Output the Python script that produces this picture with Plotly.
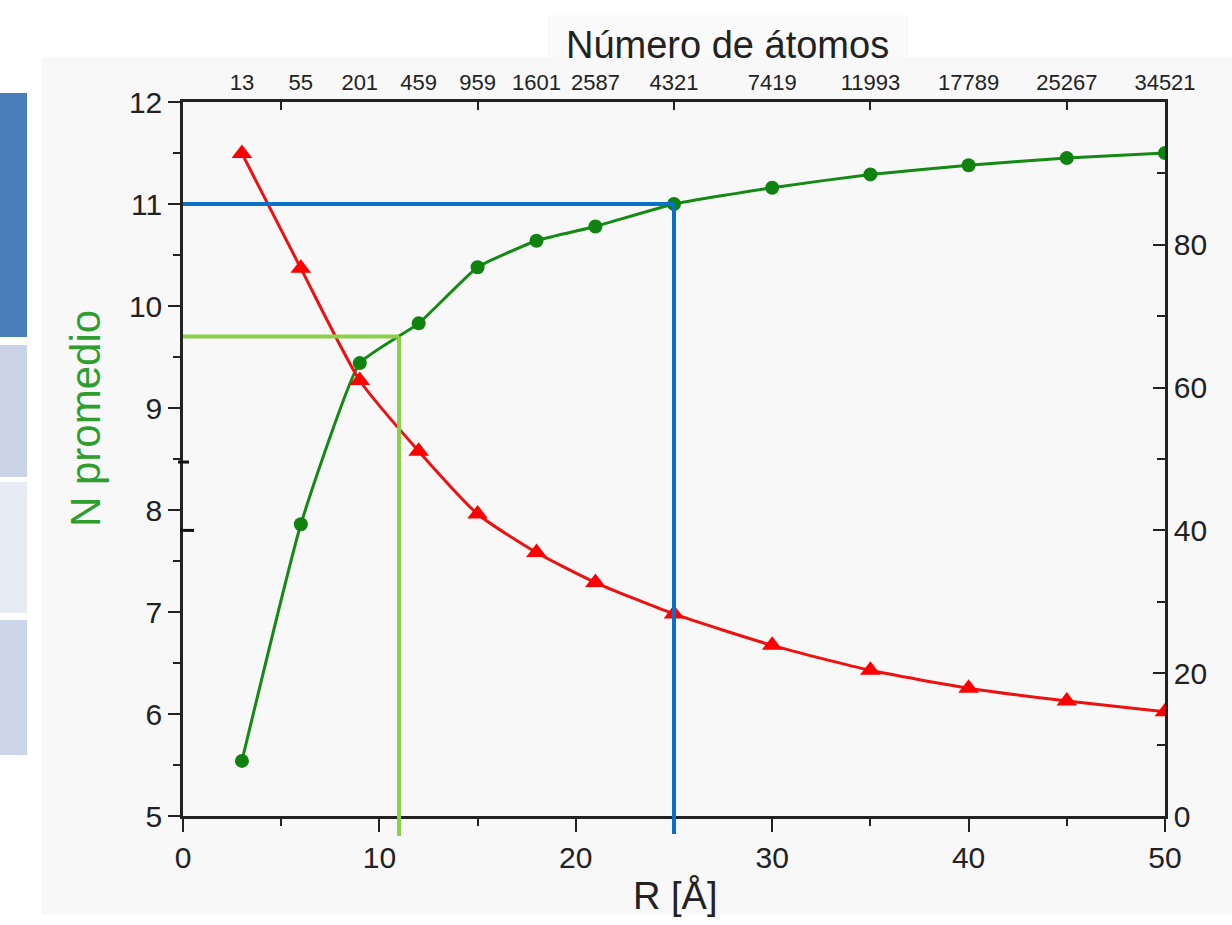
import plotly.graph_objects as go

# ---- data ----
R = [3, 6, 9, 12, 15, 18, 21, 25, 30, 35, 40, 45, 50]
atom_labels = ["13", "55", "201", "459", "959", "1601", "2587", "4321",
               "7419", "11993", "17789", "25267", "34521"]
n_promedio = [5.54, 7.86, 9.44, 9.83, 10.38, 10.64, 10.78, 11.00, 11.16, 11.29, 11.38, 11.45, 11.50]
surface_pct = [92.8, 76.7, 61.0, 51.1, 42.3, 36.9, 32.7, 28.3, 23.9, 20.4, 17.9, 16.1, 14.6]

# guide lines (R, N)
blue_guide = (25, 11.0)
green_guide = (11, 9.7)

FONT = "Liberation Sans, Arial, sans-serif"
W, H = 1232, 925
L, Rm, T, B = 183, 67, 102, 109
pw, ph = W - L - Rm, H - T - B

def px(xp):
    return (xp - L) / pw

def py(yp):
    return (H - B - yp) / ph

fig = go.Figure()

fig.add_trace(go.Scatter(
    x=R, y=n_promedio, mode="lines+markers",
    line=dict(color="#148a14", width=3, shape="spline", smoothing=0.4),
    marker=dict(symbol="circle", size=14, color="#0f820f"),
    xaxis="x", yaxis="y", showlegend=False))

fig.add_trace(go.Scatter(
    x=R, y=surface_pct, mode="lines+markers",
    line=dict(color="#ee1111", width=3, shape="spline", smoothing=0.6),
    marker=dict(symbol="triangle-up", size=18, color="#ff0000"),
    xaxis="x", yaxis="y2", showlegend=False))

# invisible trace to activate top axis
fig.add_trace(go.Scatter(x=R, y=n_promedio, mode="markers", marker=dict(opacity=0),
                         xaxis="x2", yaxis="y", showlegend=False, hoverinfo="skip"))

tickfont = dict(family=FONT, size=30, color="#222222")

fig.update_layout(
    width=W, height=H,
    margin=dict(l=L, r=Rm, t=T, b=B),
    paper_bgcolor="white", plot_bgcolor="rgba(0,0,0,0)",
    xaxis=dict(range=[0, 50], tickvals=[0, 10, 20, 30, 40, 50],
               ticks="outside", ticklen=13, tickwidth=1.5, tickcolor="#222",
               showline=True, linecolor="#222", linewidth=2.5,
               showgrid=False, zeroline=False, tickfont=tickfont,
               minor=dict(tickvals=[5, 15, 25, 35, 45], ticks="outside", ticklen=7,
                          tickwidth=1.5, tickcolor="#222", showgrid=False)),
    xaxis2=dict(range=[0, 50], overlaying="x", side="top", anchor="y",
                tickmode="array", tickvals=R, ticktext=atom_labels,
                ticks="", ticklen=0, showline=True, linecolor="#222", linewidth=2.5,
                showgrid=False, zeroline=False,
                tickfont=dict(family=FONT, size=22, color="#222222"),
                minor=dict(tickvals=[5, 15, 25, 35, 45], ticks="inside", ticklen=8,
                           tickwidth=1.5, tickcolor="#222", showgrid=False)),
    yaxis=dict(range=[5, 12], tickvals=[5, 6, 7, 8, 9, 10, 11, 12],
               ticks="outside", ticklen=12, tickwidth=1.5, tickcolor="#222",
               showline=True, linecolor="#222", linewidth=2.5,
               showgrid=False, zeroline=False, tickfont=tickfont,
               minor=dict(tickvals=[5.5, 6.5, 7.5, 8.5, 9.5, 10.5, 11.5], ticks="outside",
                          ticklen=7, tickwidth=1.5, tickcolor="#222", showgrid=False)),
    yaxis2=dict(range=[0, 100], overlaying="y", side="right", anchor="x",
                tickvals=[0, 20, 40, 60, 80], ticks="inside", ticklen=12,
                tickwidth=1.5, tickcolor="#222",
                showline=True, linecolor="#222", linewidth=2.5,
                showgrid=False, zeroline=False, tickfont=tickfont,
                minor=dict(tickvals=[10, 30, 50, 70, 90], ticks="inside", ticklen=8,
                           tickwidth=1.5, tickcolor="#222", showgrid=False)),
)

shapes = []
# textured background of the pasted image
shapes.append(dict(type="rect", xref="paper", yref="paper", layer="below",
                   x0=px(42), x1=px(1232), y0=py(915), y1=py(57),
                   fillcolor="#f8f8f8", line=dict(width=0)))
shapes.append(dict(type="rect", xref="paper", yref="paper", layer="below",
                   x0=px(548), x1=px(908), y0=py(57), y1=py(15),
                   fillcolor="#fafafa", line=dict(width=0)))
# slide side blocks
for (y0, y1, col) in [(93, 337, "#4a7ebb"), (345, 477, "#cbd4e7"),
                      (482, 613, "#e6ebf4"), (620, 755, "#cdd6e8")]:
    shapes.append(dict(type="rect", xref="paper", yref="paper", layer="below",
                       x0=px(0), x1=px(27), y0=py(y1), y1=py(y0),
                       fillcolor=col, line=dict(width=0)))

# guide lines
bx, by = blue_guide
gx, gy = green_guide
shapes.append(dict(type="line", xref="x", yref="y", x0=0, x1=bx, y0=by, y1=by,
                   line=dict(color="#0a6fc6", width=4), layer="above"))
shapes.append(dict(type="line", xref="x", yref="paper", x0=bx, x1=bx,
                   y0=py(834), y1=(by - 5) / 7,
                   line=dict(color="#0a6fc6", width=4), layer="above"))
shapes.append(dict(type="line", xref="x", yref="y", x0=0, x1=gx, y0=gy, y1=gy,
                   line=dict(color="#8ccf4a", width=4), layer="above"))
shapes.append(dict(type="line", xref="x", yref="paper", x0=gx, x1=gx,
                   y0=py(836), y1=(gy - 5) / 7,
                   line=dict(color="#8ccf4a", width=4), layer="above"))
# stray black marks on left axis
shapes.append(dict(type="line", xref="paper", yref="y", x0=px(178), x1=px(189),
                   y0=8.47, y1=8.47, line=dict(color="#111", width=3)))
shapes.append(dict(type="line", xref="paper", yref="y", x0=px(180), x1=px(194),
                   y0=7.80, y1=7.80, line=dict(color="#111", width=3)))
fig.update_layout(shapes=shapes)

fig.add_annotation(text="Número de átomos", xref="paper", yref="paper",
                   x=px(727), y=py(45), xanchor="center", yanchor="middle", showarrow=False,
                   font=dict(family=FONT, size=38, color="#222222"))
fig.add_annotation(text="R [Å]", xref="paper", yref="paper",
                   x=px(675), y=py(895), xanchor="center", yanchor="middle", showarrow=False,
                   font=dict(family=FONT, size=38, color="#222222"))
fig.add_annotation(text="N promedio", xref="paper", yref="paper",
                   x=px(85), y=py(419), xanchor="center", yanchor="middle", showarrow=False,
                   textangle=-90,
                   font=dict(family=FONT, size=42, color="#2f9e2f"))

fig.write_html("out.html")
